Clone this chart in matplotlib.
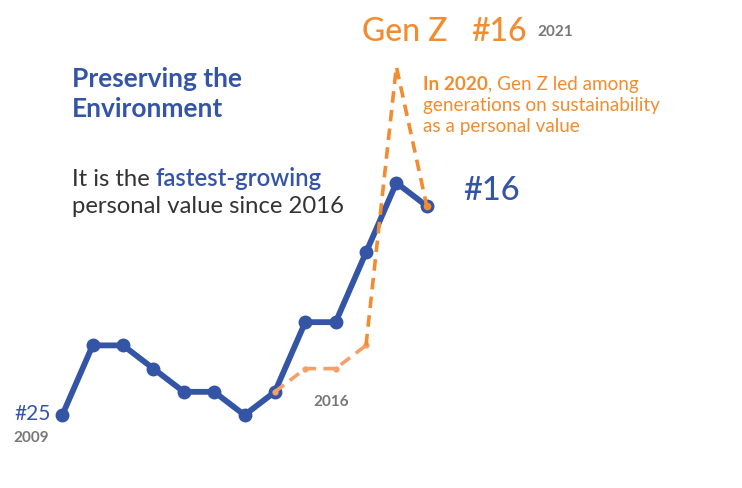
import matplotlib
matplotlib.use("Agg")
import matplotlib.pyplot as plt

years = [2009, 2010, 2011, 2012, 2013, 2014, 2015, 2016, 2017, 2018, 2019, 2020, 2021]
all_ranks = [25, 22, 22, 23, 24, 24, 25, 24, 21, 21, 18, 15, 16]
genz_years = [2016, 2017, 2018, 2019, 2020, 2021]
genz_ranks = [24, 23, 23, 22, 10, 16]

BLUE = "#3455a6"
ORANGE = "#f28c30"
ORANGE_LIGHT = "#f5a066"
GREY = "#777777"
DARK = "#333333"
plt.rcParams["font.family"] = ["Lato", "DejaVu Sans"]

W, H = 742, 488
fig = plt.figure(figsize=(W / 100, H / 100), dpi=100)
ax = fig.add_axes([0, 0, 1, 1])
ax.set_xlim(2006.949, 2031.38)
ax.set_ylim(28.14, 7.13)
ax.axis("off")

ax.plot(years, all_ranks, color=BLUE, lw=4.2, marker="o", ms=9,
        solid_capstyle="round", solid_joinstyle="round", zorder=2)
ax.plot(genz_years[:4], genz_ranks[:4], color=ORANGE_LIGHT, lw=2.6,
        dashes=(3.2, 2.0), marker="o", ms=3.5, zorder=3)
ax.plot(genz_years[3:], genz_ranks[3:], color=ORANGE, lw=2.6,
        dashes=(3.2, 2.0), zorder=3)
ax.plot(genz_years[-1], genz_ranks[-1], "o", color=ORANGE, ms=4.5, zorder=4)


def ft(x, y, s, **kw):
    return fig.text(x / W, 1 - y / H, s, **kw)


# Title
ft(72, 87, "Preserving the", color=BLUE, fontsize=19, fontweight="bold", va="baseline")
ft(72, 117, "Environment", color=BLUE, fontsize=19, fontweight="bold", va="baseline")

# Subtitle
t1 = ft(72, 186, "It is the ", color=DARK, fontsize=17.2, va="baseline")
ax.annotate("fastest-growing", xy=(1, 0), xycoords=t1, va="bottom", ha="left",
            color=BLUE, fontsize=17.2, fontweight="semibold")
ft(72, 213, "personal value since 2016", color=DARK, fontsize=17.2, va="baseline")

# Start labels
ft(14, 420, "#25", color=BLUE, fontsize=15, va="baseline")
ft(13, 442, "2009", color=GREY, fontsize=11, fontweight="bold", va="baseline")
ft(313, 406, "2016", color=GREY, fontsize=11, fontweight="bold", va="baseline")

# End labels
ft(463, 200, "#16", color=BLUE, fontsize=23.5, fontweight="medium", va="baseline")
ft(362, 41, "Gen Z", color=ORANGE, fontsize=23, fontweight="medium", va="baseline")
ft(471, 41, "#16", color=ORANGE, fontsize=23, fontweight="medium", va="baseline")
ft(537, 36, "2021", color=GREY, fontsize=11, fontweight="bold", va="baseline")

# Gen Z note
n1 = ft(423, 90, "In 2020", color=ORANGE, fontsize=13.6, fontweight="bold", va="baseline")
ax.annotate(", Gen Z led among", xy=(1, 0), xycoords=n1, va="bottom", ha="left",
            color=ORANGE, fontsize=13.6)
ft(423, 111, "generations on sustainability", color=ORANGE, fontsize=13.6, va="baseline")
ft(423, 132, "as a personal value", color=ORANGE, fontsize=13.6, va="baseline")

fig.savefig("out.png", dpi=100, facecolor="white")
